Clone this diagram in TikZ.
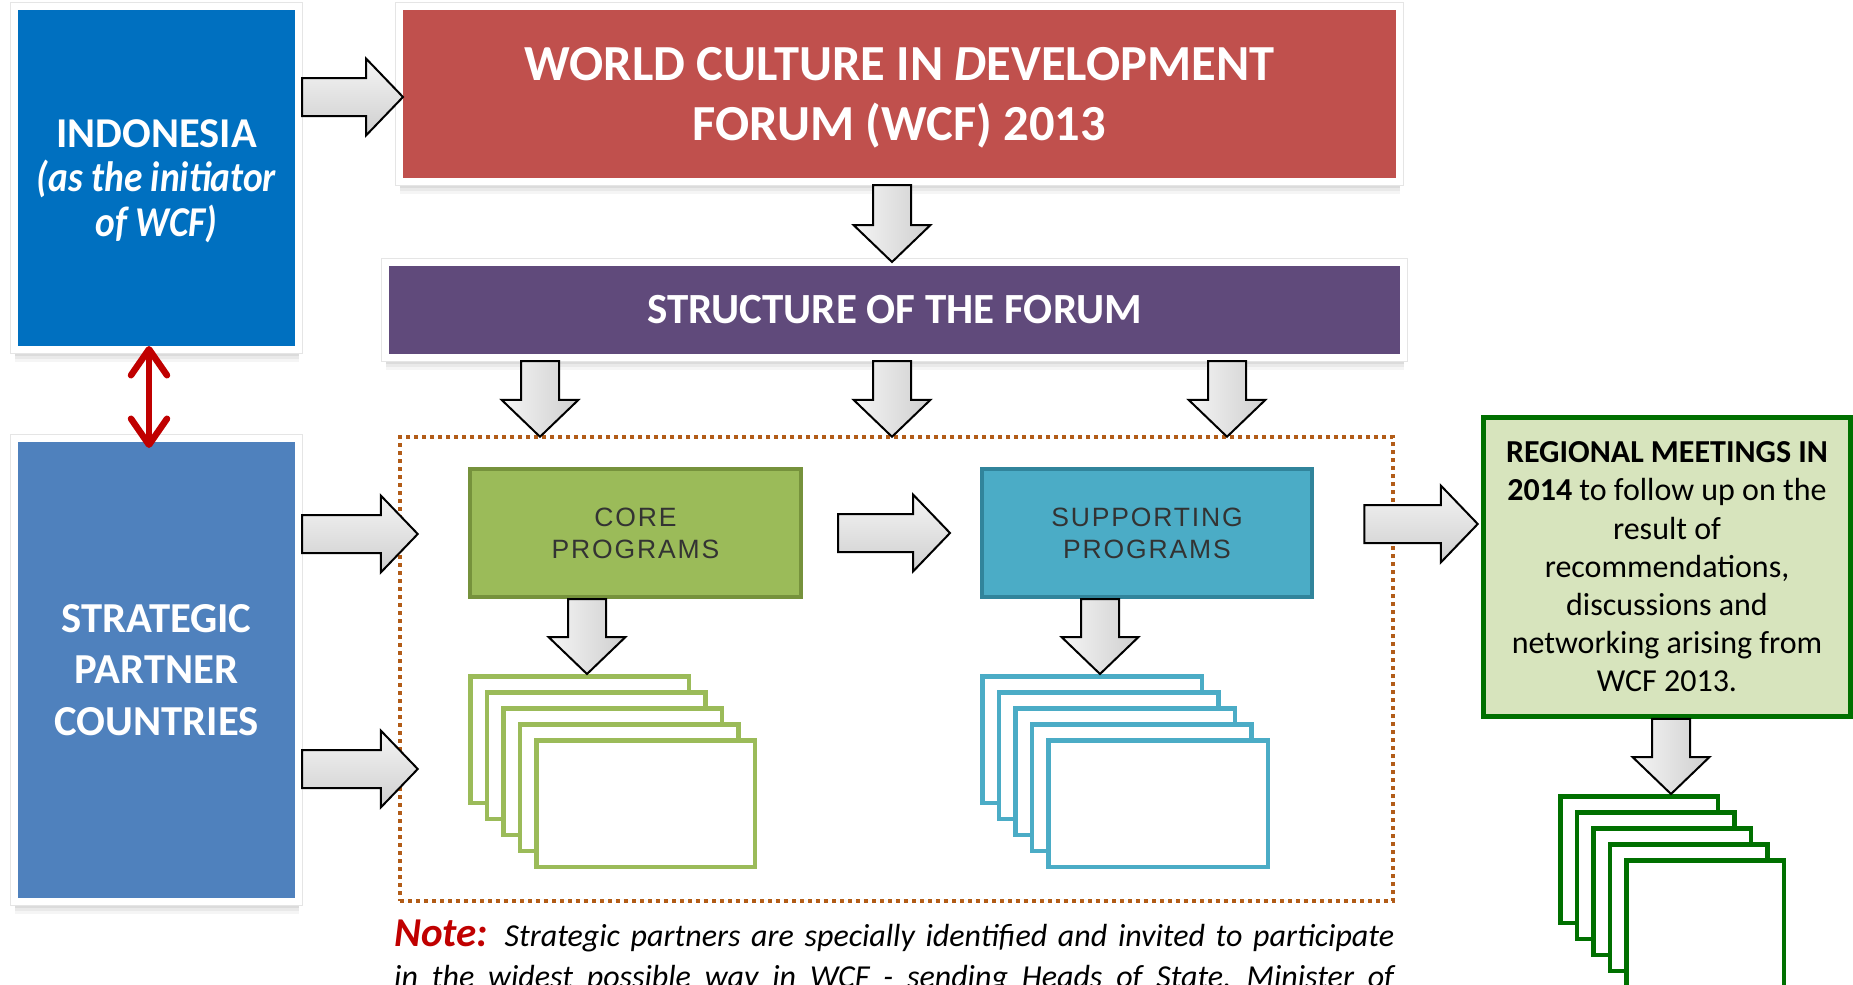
\documentclass[tikz,border=0pt]{standalone}
\usepackage{fontspec}
\setmainfont{Carlito}
\newfontfamily\progfont[LetterSpace=7]{Liberation Sans}
\usetikzlibrary{calc,shadows,arrows.meta}

\definecolor{indoblue}{RGB}{0,112,192}
\definecolor{wcfred}{RGB}{192,80,77}
\definecolor{forumpurple}{RGB}{96,74,123}
\definecolor{partnerblue}{RGB}{79,129,189}
\definecolor{coregreen}{RGB}{155,187,89}
\definecolor{coreedge}{RGB}{118,146,60}
\definecolor{supportblue}{RGB}{75,172,198}
\definecolor{supportedge}{RGB}{49,132,155}
\definecolor{regionfill}{RGB}{215,228,189}
\definecolor{regionedge}{RGB}{0,112,0}
\definecolor{dotbrown}{RGB}{178,92,24}
\definecolor{darkred}{RGB}{192,0,0}

\newcommand{\narrowit}[1]{{\itshape\addfontfeature{FakeStretch=0.88}#1}}

\tikzset{
  card/.style={draw=white, line width=7pt, fill=#1, text=white, align=center,
    drop shadow={shadow xshift=0pt, shadow yshift=-6pt, opacity=0.12},
    drop shadow={shadow xshift=0pt, shadow yshift=-9pt, opacity=0.1},
    drop shadow={shadow xshift=0pt, shadow yshift=-12pt, opacity=0.08},
    preaction={draw=black!10, line width=8.5pt}},
  prog/.style={draw=#1, line width=4pt, text=black!80, align=center,
    font=\progfont\fontsize{26.5}{32}\selectfont},
  sheet/.style={draw=#1, fill=white, line width=4.5pt},
  harrow/.style={draw=black, line width=2pt, top color=gray!8, bottom color=gray!38},
  varrow/.style={draw=black, line width=2pt, left color=gray!8, right color=gray!38},
  redlink/.style={darkred, line width=6.5pt,
    {Straight Barb[length=26pt,width=36pt,round]}-{Straight Barb[length=26pt,width=36pt,round]}},
  dottedframe/.style={draw=dotbrown, line width=4.5pt, dash pattern=on 4pt off 4pt}
}

% block arrow from tail #2 to tip #3
\newcommand{\blockarrow}[3][harrow]{%
  \draw[#1] let \p1=#2, \p2=#3, \n1={atan2(\y2-\y1,\x2-\x1)}, \n2={veclen(\x2-\x1,\y2-\y1)} in
    [shift={(\p1)}, rotate=\n1]
    (0pt,-19pt) -- ({\n2-37pt},-19pt) -- ({\n2-37pt},-38.5pt) -- (\n2,0pt)
    -- ({\n2-37pt},38.5pt) -- ({\n2-37pt},19pt) -- (0pt,19pt) -- cycle;
}

\begin{document}
\begin{tikzpicture}[x=1pt,y=-1pt]
\path[use as bounding box, fill=white] (0,0) rectangle (1853,985);

% main boxes
\node[card=indoblue, minimum width=284pt, minimum height=343pt, text depth=0pt,
  font=\bfseries\fontsize{42.5}{44.5}\selectfont] (indo) at (156.5,178)
  {INDONESIA\\\narrowit{(as the initiator}\\\narrowit{of WCF)}};
\node[card=wcfred, minimum width=1000pt, minimum height=175pt, text depth=0pt,
  font=\bfseries\fontsize{50.5}{60}\selectfont] (wcf) at (899.5,94)
  {WORLD CULTURE IN \textit{D}EVELOPMENT\\FORUM (WCF) 2013};
\node[card=forumpurple, minimum width=1018pt, minimum height=95pt,
  font=\bfseries\fontsize{43}{48}\selectfont] (forum) at (894.5,310)
  {STRUCTURE OF THE FORUM};
\node[card=partnerblue, minimum width=284pt, minimum height=463pt,
  font=\bfseries\fontsize{42.7}{51.5}\selectfont] (partner) at (156.5,670)
  {STRATEGIC\\PARTNER\\COUNTRIES};

\node[dottedframe, minimum width=993pt, minimum height=464pt] (programs) at (896.5,669) {};

\node[prog=coreedge, fill=coregreen, minimum width=331pt, minimum height=128pt] (core)
  at (635.5,533) {CORE\\PROGRAMS};
\node[prog=supportedge, fill=supportblue, minimum width=330pt, minimum height=128pt] (support)
  at (1147,533) {SUPPORTING\\PROGRAMS};

\node[draw=regionedge, line width=5pt, fill=regionfill, minimum width=367.5pt,
  minimum height=298.5pt, align=center, font=\fontsize{32}{38.2}\selectfont] (regional)
  at (1667,567) {\textbf{REGIONAL MEETINGS IN}\\\textbf{2014} to follow up on the\\result of\\
  recommendations,\\discussions and\\networking arising from\\WCF 2013.};

% stacked sheets
\foreach \i in {0,...,4}
  \node[sheet=coregreen, minimum width=218.5pt, minimum height=126.5pt] (core-s\i)
    at ({579.5+16.5*\i},{739.5+16*\i}) {};
\foreach \i in {0,...,4}
  \node[sheet=supportblue, minimum width=219.5pt, minimum height=126.5pt] (support-s\i)
    at ({1092+16.5*\i},{739.5+16*\i}) {};
\foreach \i in {0,...,4}
  \node[sheet=regionedge, minimum width=157.5pt, minimum height=126.5pt] (regional-s\i)
    at ({1639+16.5*\i},{859.5+16*\i}) {};

% arrows
\blockarrow{(indo.east |- 0,97)}{($(wcf.west |- 0,97)+(7,0)$)}
\blockarrow[varrow]{(892,0 |- wcf.south)}{($(892,0 |- forum.north)+(0,3)$)}
\blockarrow[varrow]{(540,0 |- forum.south)}{($(540,0 |- programs.north)+(0,2)$)}
\blockarrow[varrow]{(892,0 |- forum.south)}{($(892,0 |- programs.north)+(0,2)$)}
\blockarrow[varrow]{(1227,0 |- forum.south)}{($(1227,0 |- programs.north)+(0,2)$)}
\blockarrow{(partner.east |- 0,534)}{($(programs.west |- 0,534)+(20,0)$)}
\blockarrow{(partner.east |- 0,769)}{($(programs.west |- 0,769)+(20,0)$)}
\blockarrow{($(core.east)+(35,0)$)}{($(support.west)+(-30,0)$)}
\blockarrow[varrow]{(587,0 |- core.south)}{(587,0 |- core-s0.north)}
\blockarrow[varrow]{(1100,0 |- support.south)}{(1100,0 |- support-s0.north)}
\blockarrow{($(programs.east |- 0,524)+(-31,0)$)}{($(regional.west |- 0,524)+(-3,0)$)}
\blockarrow[varrow]{(1671,0 |- regional.south)}{(1671,0 |- regional-s0.north)}

\draw[redlink] ($(149,0 |- indo.south)+(0,-7)$) -- ($(149,0 |- partner.north)+(0,13)$);

% note
\node[anchor=base west, inner sep=0pt] (note) at (394,946) {\parbox[t]{1000pt}{%
  \noindent\fontsize{32}{41}\selectfont\itshape
  {\color{darkred}\fontsize{41}{41}\selectfont\bfseries Note:} Strategic partners are specially
  identified and invited to participate\linebreak in the widest possible way in WCF - sending
  Heads of State, Minister of\linebreak}};
\end{tikzpicture}
\end{document}
